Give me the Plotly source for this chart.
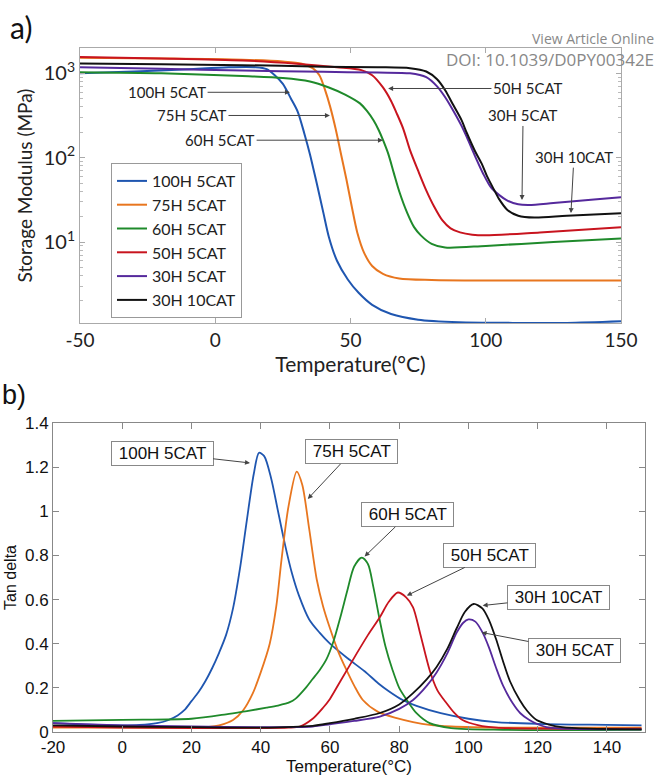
import plotly.graph_objects as go

names = ["100H 5CAT", "75H 5CAT", "60H 5CAT", "50H 5CAT", "30H 5CAT", "30H 10CAT"]
colors = ["#1f56b0", "#e8761f", "#1f8a2b", "#c8141e", "#55299c", "#111111"]

# ---- panel a) storage modulus (MPa) vs temperature ----
t_a_100 = [-50, -30, -10, 5, 15, 19, 22, 25, 28, 30.5, 33, 35, 37.5, 40, 42, 45, 49, 53, 58, 65, 75, 90, 110, 130, 150]
e_100 = [1000, 1050, 1120, 1180, 1180, 1120, 950, 750, 500, 350, 190, 110, 50, 22, 11.5, 6, 3.6, 2.5, 1.8, 1.4, 1.2, 1.12, 1.1, 1.1, 1.15]
t_a_75 = [-50, -20, 10, 25, 32, 36, 38.5, 40.5, 42.5, 44.5, 46.5, 48.5, 50.5, 52.5, 55, 58, 62, 68, 80, 100, 150]
e_75 = [1530, 1500, 1450, 1380, 1300, 1150, 950, 650, 400, 220, 110, 55, 26, 13, 7.5, 5.2, 4.2, 3.7, 3.55, 3.5, 3.5]
t_a_60 = [-50, -20, 10, 25, 35, 42, 48, 53.5, 56, 58.5, 60.5, 62, 64, 66, 68, 71, 73.5, 76, 80, 85, 100, 125, 150]
e_60 = [1030, 1000, 930, 880, 800, 680, 560, 440, 360, 277, 210, 162, 110, 66, 40, 22, 15, 12, 9.5, 8.6, 9, 10, 11]
t_a_50 = [-50, -20, 10, 30, 45, 54, 58, 62, 65, 67, 69.5, 72, 75, 78, 81, 84, 87, 90.5, 95, 100, 120, 150]
e_50 = [1560, 1500, 1420, 1300, 1180, 1090, 950, 680, 470, 340, 220, 123, 70, 41, 26, 18, 14.5, 13, 12.2, 12, 13, 15]
t_a_30 = [-50, -20, 10, 40, 60, 72, 78, 82, 85, 88, 91, 93, 96, 99, 102, 105, 108, 112, 116, 125, 140, 150]
e_30 = [1180, 1130, 1080, 1040, 1020, 1000, 900, 700, 520, 360, 240, 175, 105, 65, 44, 36, 31, 28, 27.5, 29, 32, 34]
t_a_30x = [-50, -20, 10, 40, 60, 72, 78, 82, 85, 88, 91, 93, 96, 98.5, 100.5, 103, 105, 108, 112, 118, 130, 150]
e_30x = [1310, 1280, 1250, 1200, 1180, 1150, 1050, 850, 630, 420, 280, 196, 120, 85, 60, 42, 32, 24, 20.5, 19.5, 20.5, 22]

# ---- panel b) tan delta vs temperature ----
t_b_100 = [-20, -10, 0, 5, 10, 13, 16, 18, 20, 22, 24, 26, 28, 30, 32, 34, 36, 38, 39.5, 41, 43, 45, 47, 49, 51, 54, 57, 60, 65, 70, 74, 77, 81, 85, 92, 100, 108, 120, 135, 150]
d_100 = [0.04, 0.033, 0.03, 0.032, 0.04, 0.052, 0.075, 0.1, 0.14, 0.18, 0.23, 0.29, 0.36, 0.44, 0.56, 0.74, 0.96, 1.17, 1.265, 1.25, 1.15, 1.0, 0.85, 0.72, 0.62, 0.51, 0.45, 0.40, 0.335, 0.275, 0.22, 0.185, 0.145, 0.118, 0.085, 0.06, 0.045, 0.037, 0.033, 0.03]
t_b_75 = [-20, 0, 20, 25, 28, 32, 35, 37.7, 40, 42.6, 44.5, 46, 48, 50.4, 52, 54, 56.2, 58, 60, 62.5, 64.8, 67, 69.5, 74, 79.3, 84, 88.8, 95, 110, 130, 150]
d_75 = [0.02, 0.02, 0.02, 0.023, 0.03, 0.054, 0.1, 0.175, 0.27, 0.40, 0.57, 0.78, 1.02, 1.18, 1.12, 0.92, 0.69, 0.57, 0.47, 0.36, 0.28, 0.21, 0.145, 0.09, 0.063, 0.045, 0.032, 0.025, 0.02, 0.02, 0.02]
t_b_60 = [-20, 0, 20, 30, 36, 41.7, 45, 48.4, 50, 53, 55, 57, 59, 61, 63, 65, 67, 69.2, 71, 72.5, 74.4, 76, 78.1, 80, 82.2, 85, 88.8, 95, 110, 150]
d_60 = [0.05, 0.055, 0.06, 0.08, 0.095, 0.11, 0.12, 0.135, 0.15, 0.2, 0.24, 0.28, 0.33, 0.41, 0.52, 0.64, 0.75, 0.79, 0.76, 0.66, 0.505, 0.39, 0.28, 0.2, 0.145, 0.085, 0.04, 0.018, 0.01, 0.01]
t_b_50 = [-20, 0, 20, 40, 48, 51.3, 55, 58, 60, 63, 67.7, 71, 74.4, 77, 79.6, 82, 84, 86, 88.8, 91, 93.7, 96, 98.3, 103, 108, 120, 150]
d_50 = [0.025, 0.02, 0.018, 0.018, 0.02, 0.025, 0.06, 0.11, 0.15, 0.23, 0.355, 0.44, 0.52, 0.59, 0.632, 0.61, 0.565, 0.45, 0.28, 0.19, 0.13, 0.085, 0.054, 0.03, 0.02, 0.015, 0.015]
t_b_30 = [-20, 0, 20, 40, 55, 60, 67, 74.4, 80, 84, 88, 90.8, 94, 96.6, 98.5, 100, 102, 104.1, 106, 108, 110, 112.8, 115, 117.6, 120, 122.5, 130, 150]
d_30 = [0.04, 0.03, 0.025, 0.022, 0.025, 0.035, 0.05, 0.07, 0.105, 0.145, 0.21, 0.27, 0.36, 0.45, 0.495, 0.51, 0.5, 0.45, 0.38, 0.29, 0.21, 0.13, 0.085, 0.054, 0.035, 0.022, 0.014, 0.012]
t_b_30x = [-20, 0, 20, 40, 55, 60, 67, 74.4, 80, 84, 88, 90.8, 94, 96.6, 99, 101.5, 104, 106, 108, 109.9, 112, 114.8, 117, 119.7, 123, 127, 135, 150]
d_30x = [0.03, 0.025, 0.022, 0.02, 0.028, 0.04, 0.06, 0.086, 0.125, 0.176, 0.24, 0.295, 0.38, 0.47, 0.545, 0.58, 0.56, 0.505, 0.42, 0.325, 0.23, 0.145, 0.095, 0.054, 0.035, 0.022, 0.015, 0.012]

top_t = [t_a_100, t_a_75, t_a_60, t_a_50, t_a_30, t_a_30x]
top_e = [e_100, e_75, e_60, e_50, e_30, e_30x]
bot_t = [t_b_100, t_b_75, t_b_60, t_b_50, t_b_30, t_b_30x]
bot_d = [d_100, d_75, d_60, d_50, d_30, d_30x]

log_tickvals = [10, 100, 1000]
log_ticktext = ["10<sup>1</sup>", "10<sup>2</sup>", "10<sup>3</sup>"]
minor_vals = [m * d for d in (1, 10, 100, 1000) for m in range(2, 10)]

fig = go.Figure()
for n, c, tx, ey in zip(names, colors, top_t, top_e):
    fig.add_trace(go.Scatter(x=tx, y=ey, mode="lines", name=n, line=dict(color=c, width=2, shape="spline", smoothing=0.8),
                             xaxis="x", yaxis="y", showlegend=True))
for n, c, tx, dy in zip(names, colors, bot_t, bot_d):
    fig.add_trace(go.Scatter(x=tx, y=dy, mode="lines", name=n, line=dict(color=c, width=1.8, shape="spline", smoothing=0.8),
                             xaxis="x2", yaxis="y2", showlegend=False))

W, H = 658, 778
def px(x): return x / W
def py(y): return 1 - y / H

top_font = "Lato, 'Open Sans', sans-serif"
bot_font = "'Liberation Sans', Arial, sans-serif"

fig.update_layout(
    width=W, height=H, margin=dict(l=0, r=0, t=0, b=0),
    paper_bgcolor="white", plot_bgcolor="white",
    xaxis=dict(domain=[px(80), px(621)], range=[-50, 150], tickvals=[-50, 0, 50, 100, 150],
               ticktext=["-50", "0", "50", "100", "150"], automargin=False,
               ticks="inside", ticklen=5, tickcolor="#aaa", showline=True, linecolor="#aaa", mirror="ticks",
               showgrid=False, zeroline=False, tickfont=dict(family=top_font, size=19, color="#222"),
               title=dict(text="Temperature(°C)", font=dict(family=top_font, size=21, color="#222"), standoff=4),
               anchor="y"),
    yaxis=dict(domain=[py(323), py(48)], type="log", range=[0.04, 3.3], tickvals=log_tickvals, ticktext=log_ticktext,
               automargin=False,
               ticks="inside", ticklen=5, tickcolor="#aaa", showline=True, linecolor="#aaa", mirror="ticks",
               minor=dict(ticks="inside", ticklen=3, tickcolor="#bbb", tickvals=minor_vals),
               showgrid=False, zeroline=False, tickfont=dict(family=top_font, size=20, color="#222"),
               title=dict(text="Storage Modulus (MPa)", font=dict(family=top_font, size=19, color="#222"), standoff=6),
               anchor="x"),
    xaxis2=dict(domain=[px(53), px(645)], range=[-20, 151], tickvals=[-20, 0, 20, 40, 60, 80, 100, 120, 140],
                ticktext=["-20", "0", "20", "40", "60", "80", "100", "120", "140"], automargin=False,
                ticks="inside", ticklen=6, tickcolor="#888", showline=True, linecolor="#888", mirror="ticks",
                showgrid=False, zeroline=False, tickfont=dict(family=bot_font, size=17, color="#111"),
                title=dict(text="Temperature(°C)", font=dict(family=bot_font, size=17, color="#111"), standoff=2),
                anchor="y2"),
    yaxis2=dict(domain=[py(732), py(423)], range=[0, 1.4], tickvals=[0, 0.2, 0.4, 0.6, 0.8, 1, 1.2, 1.4],
                ticktext=["0", "0.2", "0.4", "0.6", "0.8", "1", "1.2", "1.4"], automargin=False,
                ticks="inside", ticklen=6, tickcolor="#888", showline=True, linecolor="#888", mirror="ticks",
                showgrid=False, zeroline=False, tickfont=dict(family=bot_font, size=17, color="#111"),
                title=dict(text="Tan delta", font=dict(family=bot_font, size=16, color="#111"), standoff=4),
                anchor="x2"),
    legend=dict(x=px(111), y=py(163), xanchor="left", yanchor="top", bgcolor="white",
                bordercolor="#999", borderwidth=1, font=dict(family=top_font, size=16, color="#222"),
                itemwidth=30, tracegroupgap=0),
    showlegend=True,
)

anns = []
# panel a arrows: (label, head T, head logE, text T, text logE)
top_arrows = [
    ("100H 5CAT", 27.6, 2.775, -17.8, 2.775),
    ("75H 5CAT", 42.4, 2.50, -8.6, 2.50),
    ("60H 5CAT", 62.0, 2.207, 1.8, 2.207),
    ("50H 5CAT", 63.9, 2.82, 115.6, 2.82),
    ("30H 5CAT", 113.4, 1.497, 113.8, 2.50),
    ("30H 10CAT", 131.5, 1.343, 132.6, 2.006),
]
for lab, hx, hy, tx, ty in top_arrows:
    anns.append(dict(xref="x", yref="y", axref="x", ayref="y", x=hx, y=hy, ax=tx, ay=ty, text=lab,
                     showarrow=True, arrowhead=2, arrowsize=1, arrowwidth=1, arrowcolor="#444",
                     font=dict(family=top_font, size=15, color="#222"), bgcolor="white"))
# panel b boxed labels
bot_arrows = [
    ("100H 5CAT", 36.9, 1.219, 11.5, 1.264),
    ("75H 5CAT", 53.6, 1.056, 66.3, 1.269),
    ("60H 5CAT", 70.0, 0.795, 82.5, 0.984),
    ("50H 5CAT", 82.2, 0.618, 106.1, 0.80),
    ("30H 10CAT", 104.1, 0.573, 126.0, 0.61),
    ("30H 5CAT", 103.8, 0.451, 130.6, 0.37),
]
for lab, hx, hy, tx, ty in bot_arrows:
    anns.append(dict(xref="x2", yref="y2", axref="x2", ayref="y2", x=hx, y=hy, ax=tx, ay=ty, text=" " + lab + " ",
                     showarrow=True, arrowhead=2, arrowsize=1, arrowwidth=1, arrowcolor="#444",
                     font=dict(family=bot_font, size=17, color="#111"), bgcolor="white",
                     bordercolor="#888", borderwidth=1, borderpad=2))

anns += [
    dict(xref="paper", yref="paper", x=px(8), y=py(27), xanchor="left", yanchor="middle", text="a)",
         showarrow=False, font=dict(family=top_font, size=30, color="#111")),
    dict(xref="paper", yref="paper", x=px(0), y=py(395), xanchor="left", yanchor="middle", text="b)",
         showarrow=False, font=dict(family=bot_font, size=27, color="#111")),
    dict(xref="paper", yref="paper", x=px(656), y=py(38), xanchor="right", yanchor="middle", text="View Article Online",
         showarrow=False, font=dict(family="'Open Sans', sans-serif", size=14, color="#888")),
    dict(xref="paper", yref="paper", x=px(656), y=py(60), xanchor="right", yanchor="middle", text="DOI: 10.1039/D0PY00342E",
         showarrow=False, font=dict(family="'Open Sans', sans-serif", size=17, color="#888")),
]
fig.update_layout(annotations=anns)

fig.write_html("out.html", config={"displayModeBar": False},
               post_script="document.body.style.margin='0';document.body.style.overflow='hidden';")
